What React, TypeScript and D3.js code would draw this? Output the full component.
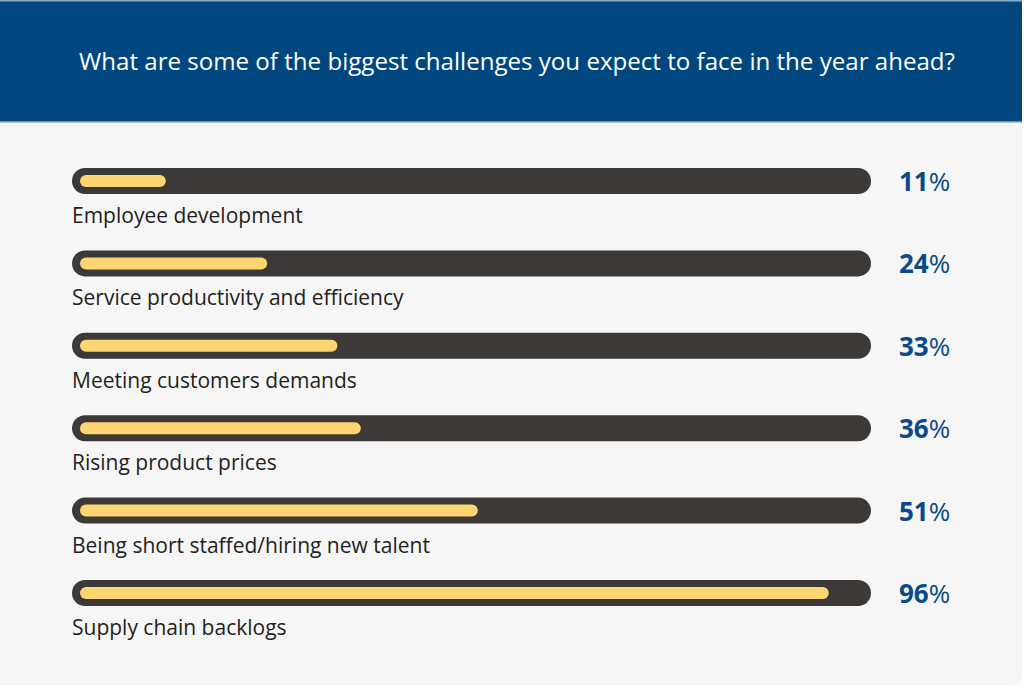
import React from "react";
import * as d3 from "d3";

const categories = [
  "Employee development",
  "Service productivity and efficiency",
  "Meeting customers demands",
  "Rising product prices",
  "Being short staffed/hiring new talent",
  "Supply chain backlogs",
];
const values = [11, 24, 33, 36, 51, 96];
const title = "What are some of the biggest challenges you expect to face in the year ahead?";

const W = 1024;
const H = 687;

export default function App() {
  const y = d3.scalePoint<string>().domain(categories).range([181, 593]);
  const x = d3.scaleLinear().domain([0, 100]).range([80, 860]);
  const trackX0 = 72;
  const trackX1 = 871;
  const trackH = 26;
  const barH = 12;
  return (
    <svg width={W} height={H} style={{ position: "absolute", left: 0, top: 0 }}>
      <rect x={0} y={0} width={W} height={H} fill="#ffffff" />
      <path
        d={`M0,110 L1022,110 L1022,675 Q1022,685 1012,685 L0,685 Z`}
        fill="#f6f6f6"
      />
      <rect x={0} y={0} width={1022} height={122} fill="#004780" />
      <rect x={0} y={0} width={1022} height={1.5} fill="#8aa9c6" />
      <rect x={0} y={121} width={1022} height={1.5} fill="#6d8fb0" />
      <text
        x={517}
        y={70}
        textAnchor="middle"
        fill="#ffffff"
        fontFamily="'Open Sans', sans-serif"
        fontSize={23}
        textLength={876}
        lengthAdjust="spacingAndGlyphs"
      >
        {title}
      </text>
      {categories.map((c, i) => {
        const cy = y(c)!;
        const v = values[i];
        return (
          <g key={c}>
            <rect
              x={trackX0}
              y={cy - trackH / 2}
              width={trackX1 - trackX0}
              height={trackH}
              rx={trackH / 2}
              fill="#3d3936"
            />
            <rect
              x={x(0)}
              y={cy - barH / 2}
              width={x(v) - x(0)}
              height={barH}
              rx={barH / 2}
              fill="#fdd571"
            />
            <text
              x={72}
              y={cy + 42}
              fill="#231f20"
              fontFamily="'Open Sans', sans-serif"
              fontSize={21}
            >
              {c}
            </text>
            <text
              x={899}
              y={cy + 10}
              fill="#0b4a86"
              fontFamily="'Open Sans', sans-serif"
              fontSize={26}
            >
              <tspan fontWeight="bold">{v}</tspan>
              <tspan>%</tspan>
            </text>
          </g>
        );
      })}
    </svg>
  );
}
